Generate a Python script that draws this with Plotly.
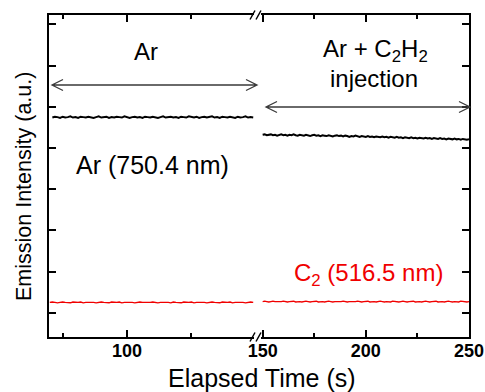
import plotly.graph_objects as go

# ---------------- data ----------------
t_left = list(range(71, 150))               # 71..149 s (Ar only)
t_left_c2 = list(range(70, 150))            # 70..149 s
t_right = list(range(150, 251))             # 150..250 s (Ar + C2H2 injection)

ar_left = [
    5.74, 5.76, 5.75, 5.73, 5.76, 5.74, 5.75, 5.77, 5.74, 5.75,
    5.73, 5.76, 5.75, 5.74, 5.76, 5.75, 5.73, 5.75, 5.77, 5.74,
    5.75, 5.76, 5.73, 5.75, 5.74, 5.76, 5.75, 5.74, 5.77, 5.75,
    5.73, 5.75, 5.76, 5.74, 5.75, 5.73, 5.76, 5.75, 5.74, 5.76,
    5.75, 5.73, 5.75, 5.77, 5.74, 5.75, 5.76, 5.74, 5.75, 5.73,
    5.76, 5.75, 5.74, 5.77, 5.75, 5.74, 5.76, 5.73, 5.75, 5.76,
    5.74, 5.75, 5.77, 5.74, 5.75, 5.73, 5.76, 5.75, 5.74, 5.76,
    5.75, 5.73, 5.76, 5.74, 5.75, 5.77, 5.74, 5.75, 5.74]
ar_right = [
    5.32, 5.33, 5.31, 5.32, 5.33, 5.31, 5.32, 5.30, 5.32, 5.33,
    5.31, 5.32, 5.30, 5.32, 5.31, 5.33, 5.31, 5.30, 5.32, 5.31,
    5.30, 5.32, 5.31, 5.29, 5.31, 5.32, 5.30, 5.31, 5.29, 5.31,
    5.30, 5.29, 5.31, 5.30, 5.28, 5.30, 5.31, 5.29, 5.30, 5.28,
    5.30, 5.29, 5.27, 5.29, 5.28, 5.30, 5.28, 5.27, 5.29, 5.28,
    5.27, 5.29, 5.27, 5.28, 5.26, 5.28, 5.27, 5.26, 5.28, 5.26,
    5.27, 5.25, 5.27, 5.26, 5.25, 5.27, 5.25, 5.26, 5.24, 5.26,
    5.25, 5.24, 5.26, 5.24, 5.25, 5.23, 5.25, 5.24, 5.23, 5.25,
    5.23, 5.24, 5.22, 5.24, 5.23, 5.22, 5.24, 5.22, 5.23, 5.21,
    5.23, 5.22, 5.21, 5.23, 5.21, 5.22, 5.20, 5.22, 5.21, 5.20, 5.21]
c2_left = [
    1.25, 1.26, 1.25, 1.24, 1.25, 1.26, 1.25, 1.25, 1.24, 1.26,
    1.25, 1.25, 1.26, 1.24, 1.25, 1.25, 1.26, 1.25, 1.24, 1.25,
    1.26, 1.25, 1.25, 1.24, 1.26, 1.25, 1.25, 1.26, 1.24, 1.25,
    1.25, 1.26, 1.25, 1.24, 1.25, 1.26, 1.25, 1.25, 1.24, 1.25,
    1.26, 1.25, 1.24, 1.25, 1.25, 1.26, 1.25, 1.24, 1.26, 1.25,
    1.25, 1.24, 1.26, 1.25, 1.25, 1.26, 1.24, 1.25, 1.25, 1.26,
    1.25, 1.24, 1.25, 1.26, 1.25, 1.25, 1.24, 1.26, 1.25, 1.25,
    1.26, 1.24, 1.25, 1.25, 1.26, 1.25, 1.24, 1.25, 1.26, 1.25]
c2_right = [
    1.27, 1.28, 1.27, 1.26, 1.27, 1.28, 1.27, 1.27, 1.26, 1.27,
    1.28, 1.27, 1.26, 1.27, 1.27, 1.28, 1.26, 1.27, 1.27, 1.26,
    1.27, 1.28, 1.27, 1.26, 1.27, 1.27, 1.28, 1.26, 1.27, 1.27,
    1.26, 1.27, 1.28, 1.27, 1.26, 1.27, 1.27, 1.26, 1.27, 1.28,
    1.27, 1.26, 1.27, 1.27, 1.26, 1.27, 1.28, 1.27, 1.26, 1.27,
    1.27, 1.28, 1.26, 1.27, 1.27, 1.26, 1.27, 1.28, 1.27, 1.26,
    1.27, 1.27, 1.26, 1.28, 1.27, 1.27, 1.26, 1.27, 1.28, 1.27,
    1.26, 1.27, 1.27, 1.28, 1.26, 1.27, 1.27, 1.26, 1.27, 1.28,
    1.27, 1.26, 1.27, 1.27, 1.28, 1.26, 1.27, 1.27, 1.26, 1.27,
    1.28, 1.27, 1.26, 1.27, 1.27, 1.26, 1.28, 1.27, 1.27, 1.26, 1.27]

# ---------------- layout geometry ----------------
W, H = 485, 392
L, R, T, B = 49, 16, 15, 55
PW, PH = W - L - R, H - T - B
FONT = "Liberation Sans, Arial, sans-serif"
RED = "#f00000"


def px(x):
    return (x - L) / PW


def py(y):
    return (T + PH - y) / PH


left_dom = [0, px(254)]
right_dom = [px(261), 1]
yrange = [0.41, 8.23]

fig = go.Figure()
fig.add_trace(go.Scatter(x=t_left, y=ar_left, mode="lines", xaxis="x", yaxis="y",
                         line=dict(color="black", width=2)))
fig.add_trace(go.Scatter(x=t_left_c2, y=c2_left, mode="lines", xaxis="x", yaxis="y",
                         line=dict(color=RED, width=1.4)))
fig.add_trace(go.Scatter(x=t_right, y=ar_right, mode="lines", xaxis="x2", yaxis="y2",
                         line=dict(color="black", width=2)))
fig.add_trace(go.Scatter(x=t_right, y=c2_right, mode="lines", xaxis="x2", yaxis="y2",
                         line=dict(color=RED, width=1.4)))

xcommon = dict(showline=True, linecolor="black", linewidth=1.8, mirror="ticks",
               ticks="inside", ticklen=7, tickwidth=1.5, tickcolor="black",
               showgrid=False, zeroline=False, tick0=0, dtick=50, automargin=False,
               ticklabelstandoff=-4,
               tickfont=dict(family=FONT, size=18, color="black", weight="bold"),
               minor=dict(ticks="inside", ticklen=4, tickwidth=1.5, tickcolor="black",
                          dtick=25, tick0=0, showgrid=False))
ycommon = dict(showline=True, linecolor="black", linewidth=1.8, automargin=False,
               ticks="inside", ticklen=7, tickwidth=1.5, tickcolor="black",
               showgrid=False, zeroline=False, showticklabels=False,
               range=yrange, tick0=0, dtick=1)

fig.update_layout(
    width=W, height=H, autosize=False,
    margin=dict(l=L, r=R, t=T, b=B, pad=0),
    paper_bgcolor="white", plot_bgcolor="white",
    showlegend=False,
    xaxis=dict(domain=left_dom, range=[69.7, 149.3], anchor="y", **xcommon),
    xaxis2=dict(domain=right_dom, range=[149.2, 250], anchor="y2", **xcommon),
    yaxis=dict(anchor="x", side="left", **ycommon),
    yaxis2=dict(anchor="x2", side="right", **ycommon),
)

# ---------------- arrows and axis-break marks ----------------
ARROW = "#3a3a3a"


def double_arrow(x0, x1, y, hl=11, hw=5.5):
    path = (f"M{px(x0 + hl)},{py(y - hw)} L{px(x0)},{py(y)} L{px(x0 + hl)},{py(y + hw)} "
            f"M{px(x0)},{py(y)} L{px(x1)},{py(y)} "
            f"M{px(x1 - hl)},{py(y - hw)} L{px(x1)},{py(y)} L{px(x1 - hl)},{py(y + hw)}")
    return dict(type="path", xref="paper", yref="paper", path=path,
                line=dict(color=ARROW, width=1.3))


shapes = [double_arrow(52, 257, 85), double_arrow(266, 470, 107)]
for yb in (T, T + PH):
    for xs in (250, 256):
        shapes.append(dict(type="line", xref="paper", yref="paper",
                           x0=px(xs), y0=py(yb + 4.5), x1=px(xs + 5), y1=py(yb - 4.5),
                           line=dict(color="black", width=1.5)))
fig.update_layout(shapes=shapes)

# ---------------- text ----------------


def note(text, x, y, size=24, color="black", angle=0):
    return dict(text=text, x=px(x), y=py(y), xref="paper", yref="paper",
                showarrow=False, xanchor="center", yanchor="middle", textangle=angle,
                font=dict(family=FONT, size=size, color=color))


fig.update_layout(annotations=[
    note("Ar", 146, 51),
    note("Ar + C<sub>2</sub>H<sub>2</sub>", 375, 50),
    note("injection", 374, 78),
    note("Ar (750.4 nm)", 152, 165, size=25),
    note("C<sub>2</sub> (516.5 nm)", 368, 274, color=RED),
    note("Elapsed Time (s)", 262, 378, size=25),
    note("Emission Intensity (a.u.)", 24, 187, size=21.5, angle=-90),
])

fig.write_html("out.html")
